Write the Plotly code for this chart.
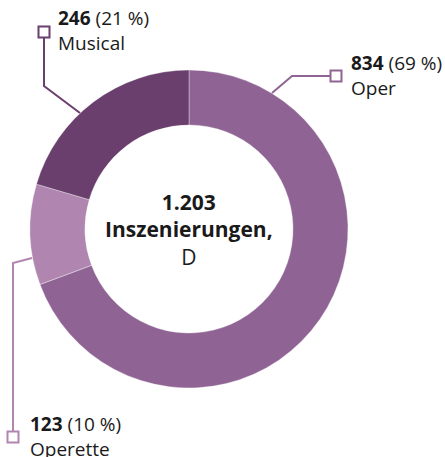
import plotly.graph_objects as go

labels = ["Oper", "Operette", "Musical"]
values = [834, 123, 246]
percents = [69, 10, 21]
colors = ["#8f6494", "#b086b0", "#6a3f6e"]
center_title = "Inszenierungen,"
center_sub = "D"

W, H = 445, 457
def px(x): return x / W
def py(y): return 1 - y / H

cx, cy, R = 189, 229, 159
hole = 104 / 159

fig = go.Figure()
fig.add_trace(go.Pie(
    labels=labels, values=values, sort=False, direction="clockwise", rotation=0,
    hole=hole, marker=dict(colors=colors, line=dict(color="rgba(255,255,255,0.6)", width=0.6)),
    textinfo="none", hoverinfo="skip", showlegend=False,
    domain=dict(x=[px(cx - R), px(cx + R)], y=[py(cy + R), py(cy - R)]),
))

total = f"{sum(values):,}".replace(",", ".")
FONT = "Open Sans"
TC = "#1a1a1a"

anns = []
def ann(text, x, y, xanchor="left", align="left", size=19):
    anns.append(dict(text=text, x=px(x), y=py(y), xref="paper", yref="paper",
                     xanchor=xanchor, yanchor="middle", align=align, showarrow=False,
                     font=dict(family=FONT, size=size, color=TC)))

# center text
ann(f"<b>{total}</b><br><b>{center_title}</b><br>{center_sub}", cx, 229, "center", "center", 21)

# label placement (pixel positions of label blocks)
label_pos = {
    "Oper": (349, 76),
    "Operette": (28, 436),
    "Musical": (56, 31),
}
for lab, v, p in zip(labels, values, percents):
    x, y = label_pos[lab]
    ann(f"<b>{v}</b> ({p} %)<br>{lab}", x, y)

shapes = []
def path(pts, color):
    d = "M " + " L ".join(f"{px(a)},{py(b)}" for a, b in pts)
    shapes.append(dict(type="path", path=d, xref="paper", yref="paper",
                       line=dict(color=color, width=2), layer="above"))
def sq(x, y, color, s=11):
    shapes.append(dict(type="rect", xref="paper", yref="paper",
                       x0=px(x - s/2), x1=px(x + s/2), y0=py(y + s/2), y1=py(y - s/2),
                       line=dict(color=color, width=2), fillcolor="white", layer="above"))

leaders = {
    "Oper": [(272, 93), (292, 76), (331, 76)],
    "Operette": [(32, 258), (13, 263), (13, 432)],
    "Musical": [(80, 113), (44, 86), (44, 37)],
}
squares = {"Oper": (336, 76), "Operette": (13, 437), "Musical": (44, 32)}
for lab, c in zip(labels, colors):
    path(leaders[lab], c)
    sq(*squares[lab], c)

fig.update_layout(width=W, height=H, margin=dict(l=0, r=0, t=0, b=0),
                  paper_bgcolor="white", plot_bgcolor="white",
                  annotations=anns, shapes=shapes)
fig.write_html("out.html")
